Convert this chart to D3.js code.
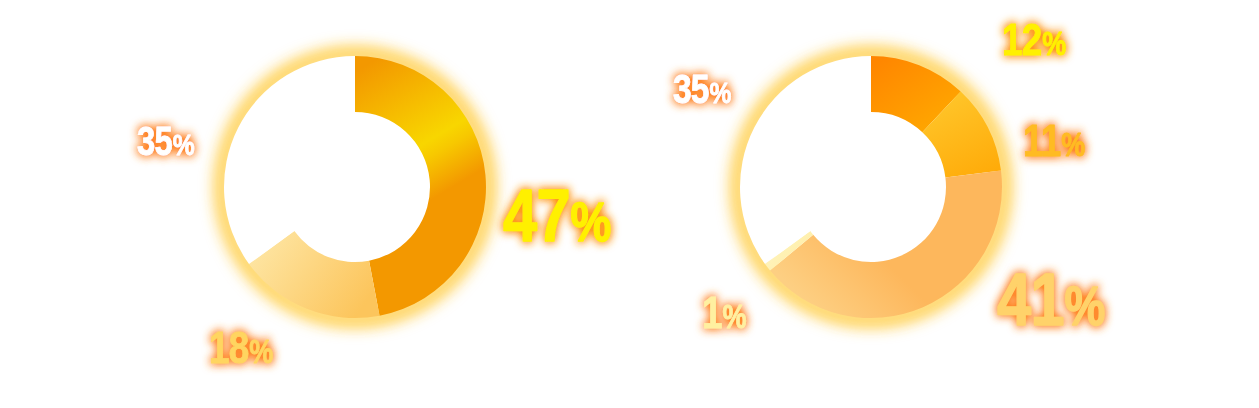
<!DOCTYPE html>
<html>
<head>
<meta charset="utf-8">
<script src="https://cdn.jsdelivr.net/npm/d3@7"></script>
<style>
  html, body { margin: 0; padding: 0; background: #ffffff; }
  svg { display: block; }
  .lbl { font-family: "Liberation Sans", Arial, "Helvetica", sans-serif; font-weight: bold; }
</style>
</head>
<body>
<script>
// ---------- data ----------
const leftValues  = [47, 18, 35];
const rightValues = [12, 11, 41, 1, 35];

// ---------- styles (per slice) ----------
const leftSliceFills  = [["#f39800", "#f8d600", "#f39800"], ["#fee9ab", "#fcc55c"], ["#ffffff", "#ffffff"]];
const rightSliceFills = [["#ff8600", "#ffa500"], ["#ffc428", "#ffaa08"], ["#fdcf82", "#fdb75c"], ["#fff2b8", "#ffec9c"], ["#ffffff", "#ffffff"]];
const leftTextColors  = ["#fff000", "#ffd560", "#ffffff"];
const rightTextColors = ["#fff000", "#ffbb22", "#ffd26a", "#fff0a0", "#ffffff"];
// label layout: offset of text start / baseline from donut centre, and font size
const leftLabelLayout  = [[148, 54, 75], [-146, 176, 45], [-218, -32, 40]];
const rightLabelLayout = [[131, -132, 45], [152, -31, 45], [126, 138, 75], [-169, 141, 45], [-198, -84, 41]];

const W = 1259, H = 408;
const outerR = 131, innerR = 75;
const centres = [[355, 187], [871, 187]];
const narrow = 0.82;

const svg = d3.select("body").append("svg").attr("width", W).attr("height", H);
const defs = svg.append("defs");

// glow filter for donut ring
const rg = defs.append("filter").attr("id", "ringGlow").attr("x", "-30%").attr("y", "-30%").attr("width", "160%").attr("height", "160%");
rg.append("feGaussianBlur").attr("stdDeviation", 8);

// text glow filter
function textGlow(id, color) {
  const f = defs.append("filter").attr("id", id).attr("x", "-40%").attr("y", "-40%").attr("width", "180%").attr("height", "180%");
  f.append("feMorphology").attr("in", "SourceAlpha").attr("operator", "dilate").attr("radius", 1).attr("result", "d");
  f.append("feGaussianBlur").attr("in", "d").attr("stdDeviation", 5).attr("result", "b");
  f.append("feFlood").attr("flood-color", color).attr("result", "c");
  f.append("feComposite").attr("in", "c").attr("in2", "b").attr("operator", "in").attr("result", "g");
  const ct = f.append("feComponentTransfer").attr("in", "g").attr("result", "g2");
  ct.append("feFuncA").attr("type", "linear").attr("slope", 1.25);
  const m = f.append("feMerge");
  m.append("feMergeNode").attr("in", "g2");
  m.append("feMergeNode").attr("in", "SourceGraphic");
}
textGlow("tglow", "#ff8a2e");
textGlow("tglowY", "#ff9a20");

const arc = d3.arc().innerRadius(innerR).outerRadius(outerR);
const pie = d3.pie().sort(null).value(d => d).startAngle(0).endAngle(2 * Math.PI);

function gradient(id, stops, x1, y1, x2, y2) {
  const g = defs.append("linearGradient").attr("id", id).attr("gradientUnits", "userSpaceOnUse")
    .attr("x1", x1).attr("y1", y1).attr("x2", x2).attr("y2", y2);
  stops.forEach(([o, c]) => g.append("stop").attr("offset", o).attr("stop-color", c));
}

// gradients (geometry relative to donut centre)
gradient("L0", [[0, leftSliceFills[0][0]], [0.52, leftSliceFills[0][1]], [0.6, "#f7c800"], [0.8, leftSliceFills[0][2]], [1, leftSliceFills[0][2]]], 20, -127, 115, 33);
gradient("L1", [[0, leftSliceFills[1][0]], [1, leftSliceFills[1][1]]], -110, 50, 0, 130);
gradient("L2", [[0, leftSliceFills[2][0]], [1, leftSliceFills[2][1]]], 0, 0, 1, 1);
gradient("R0", [[0, rightSliceFills[0][0]], [1, rightSliceFills[0][1]]], 10, -130, 60, -60);
gradient("R1", [[0, rightSliceFills[1][0]], [1, rightSliceFills[1][1]]], 80, -90, 120, -10);
gradient("R2", [[0, rightSliceFills[2][0]], [1, rightSliceFills[2][1]]], -80, 100, -20, 40);
gradient("R3", [[0, rightSliceFills[3][0]], [1, rightSliceFills[3][1]]], -100, 70, -60, 100);
gradient("R4", [[0, rightSliceFills[4][0]], [1, rightSliceFills[4][1]]], 0, 0, 1, 1);

function donut(values, centre, prefix, textColors, layout) {
  const g = svg.append("g").attr("transform", `translate(${centre[0]},${centre[1]})`);
  // glow ring
  g.append("circle").attr("r", outerR + 2).attr("fill", "none")
    .attr("stroke", "#ffc52e").attr("stroke-width", 12).attr("filter", "url(#ringGlow)");
  g.append("circle").attr("r", outerR + 1).attr("fill", "none")
    .attr("stroke", "#ffd24a").attr("stroke-width", 4).attr("opacity", 0.9).attr("filter", "url(#ringGlow)");
  // slices
  g.selectAll("path.slice").data(pie(values)).join("path")
    .attr("class", "slice")
    .attr("d", arc)
    .attr("fill", (d, i) => `url(#${prefix}${i})`);
  // labels
  const lg = svg.append("g").attr("transform", `translate(${centre[0]},${centre[1]})`);
  values.forEach((v, i) => {
    const [dx, dy, fs] = layout[i];
    const col = textColors[i];
    const t = lg.append("text").attr("class", "lbl")
      .attr("transform", `translate(${dx},${dy}) scale(${narrow},1)`)
      .attr("fill", col).attr("stroke", col).attr("stroke-width", fs > 60 ? 1.4 : 0.8)
      .attr("stroke-linejoin", "round")
      .attr("filter", col === "#fff000" ? "url(#tglowY)" : "url(#tglow)")
      .style("font-size", fs + "px")
      .style("letter-spacing", "-1px");
    t.append("tspan").text(String(v));
    t.append("tspan").style("font-size", Math.round(fs * 0.74) + "px").attr("dx", 1).text("%");
  });
}

donut(leftValues, centres[0], "L", leftTextColors, leftLabelLayout);
donut(rightValues, centres[1], "R", rightTextColors, rightLabelLayout);
</script>
</body>
</html>
